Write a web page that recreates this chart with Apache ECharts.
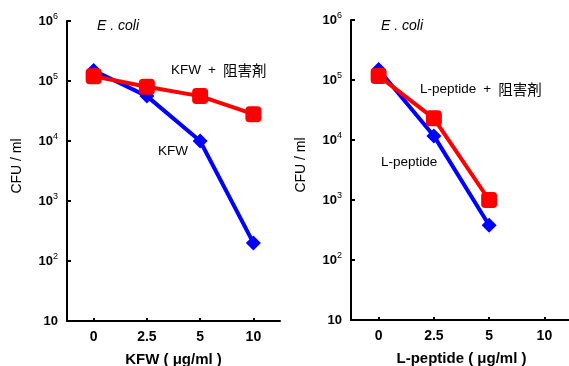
<!DOCTYPE html>
<html><head><meta charset="utf-8">
<script src="https://cdn.jsdelivr.net/npm/echarts@6/dist/echarts.min.js"></script>
<style>html,body{margin:0;padding:0;background:#fff}#c{width:569px;height:366px}</style>
</head><body><div id="c"></div>
<script>
const categories = ['0', '2.5', '5', '10'];
const kfw = [150000, 56000, 10000, 200];
const kfwInhib = [120000, 80000, 56000, 28000];
const lpep = [150000, 11700, 380, null];
const lpepInhib = [117000, 23000, 1000, null];
const yMin = 10, yMax = 1000000;

const chart = echarts.init(document.getElementById('c'));
const F = '"Liberation Sans", Arial, sans-serif';
const CJK = '"Noto Sans CJK JP", sans-serif';
function yLabel(v){
  const n = Math.round(Math.log10(v));
  if (n === 1) return '{b|10}';
  return '{b|10}{s|' + n + '}';
}
function yAxis(idx){
  return {
    type: 'log', gridIndex: idx, min: yMin, max: yMax, logBase: 10,
    name: 'CFU / ml', nameLocation: 'middle', nameGap: 43,
    nameTextStyle: {fontFamily: F, fontSize: 14, color: '#000', padding: [0, 0, 0, 10]},
    axisLine: {show: true, lineStyle: {color: '#000', width: 2}},
    axisTick: {show: true, inside: true, length: 4, lineStyle: {color: '#000', width: 2}},
    minorTick: {show: false}, splitLine: {show: false},
    axisLabel: {
      margin: 9, formatter: yLabel,
      rich: {
        b: {fontFamily: F, fontSize: 13, fontWeight: 'bold', color: '#000'},
        s: {fontFamily: F, fontSize: 9, color: '#000', verticalAlign: 'top', padding: [0,0,8,0]}
      }
    }
  };
}
function xAxis(idx, name){
  return {
    type: 'category', gridIndex: idx, data: categories, boundaryGap: true,
    name: name, nameLocation: 'middle', nameGap: 31,
    nameTextStyle: {fontFamily: F, fontSize: 15, fontWeight: 'bold', color: '#000'},
    axisLine: {lineStyle: {color: '#000', width: 2}},
    axisTick: {show: true, inside: true, alignWithLabel: true, length: 3, lineStyle: {color: '#000', width: 2}},
    axisLabel: {fontFamily: F, fontSize: 14, fontWeight: 'bold', color: '#000', margin: 9},
    splitLine: {show: false}
  };
}
function blue(data, xi){
  return {type: 'line', xAxisIndex: xi, yAxisIndex: xi, data: data, symbol: 'diamond', symbolSize: 15,
    lineStyle: {color: '#0000ff', width: 4}, itemStyle: {color: '#0000ff'}, z: 2, animation: false};
}
function red(data, xi){
  return {type: 'line', xAxisIndex: xi, yAxisIndex: xi, data: data, symbol: 'roundRect', symbolSize: 16,
    lineStyle: {color: '#ff0000', width: 4}, itemStyle: {color: '#ff0000'}, z: 3, animation: false};
}
const rich = {
  a: {fontFamily: F, fontSize: 13.5, fill: '#000', height: 18, verticalAlign: 'middle'},
  p: {fontFamily: F, fontSize: 13.5, fill: '#000', padding: [0, 7], height: 18, verticalAlign: 'middle'},
  c: {fontFamily: CJK, fontSize: 14.5, fill: '#000', height: 18, verticalAlign: 'middle'}
};
function txt(x, y, t, style){
  return {type: 'text', left: x, top: y, style: Object.assign({text: t, fill: '#000', font: '13.5px ' + F}, style || {})};
}
chart.setOption({
  animation: false,
  grid: [
    {left: 67, top: 21, width: 213, height: 300, outerBoundsMode: 'none', containLabel: false},
    {left: 351, top: 20, width: 221, height: 300, outerBoundsMode: 'none', containLabel: false}
  ],
  xAxis: [xAxis(0, 'KFW ( μg/ml )'), xAxis(1, 'L-peptide ( μg/ml )')],
  yAxis: [yAxis(0), yAxis(1)],
  series: [blue(kfw, 0), red(kfwInhib, 0), blue(lpep, 1), red(lpepInhib, 1)],
  graphic: [
    txt(97, 19, 'E . coli', {font: 'italic 14px ' + F}),
    txt(381, 19, 'E . coli', {font: 'italic 14px ' + F}),
    txt(171, 63, '{a|KFW}{p|+}{c|阻害剤}', {rich: rich}),
    txt(158, 144, 'KFW'),
    txt(420, 82, '{a|L-peptide}{p|+}{c|阻害剤}', {rich: rich}),
    txt(381, 155, 'L-peptide')
  ]
});
</script></body></html>
